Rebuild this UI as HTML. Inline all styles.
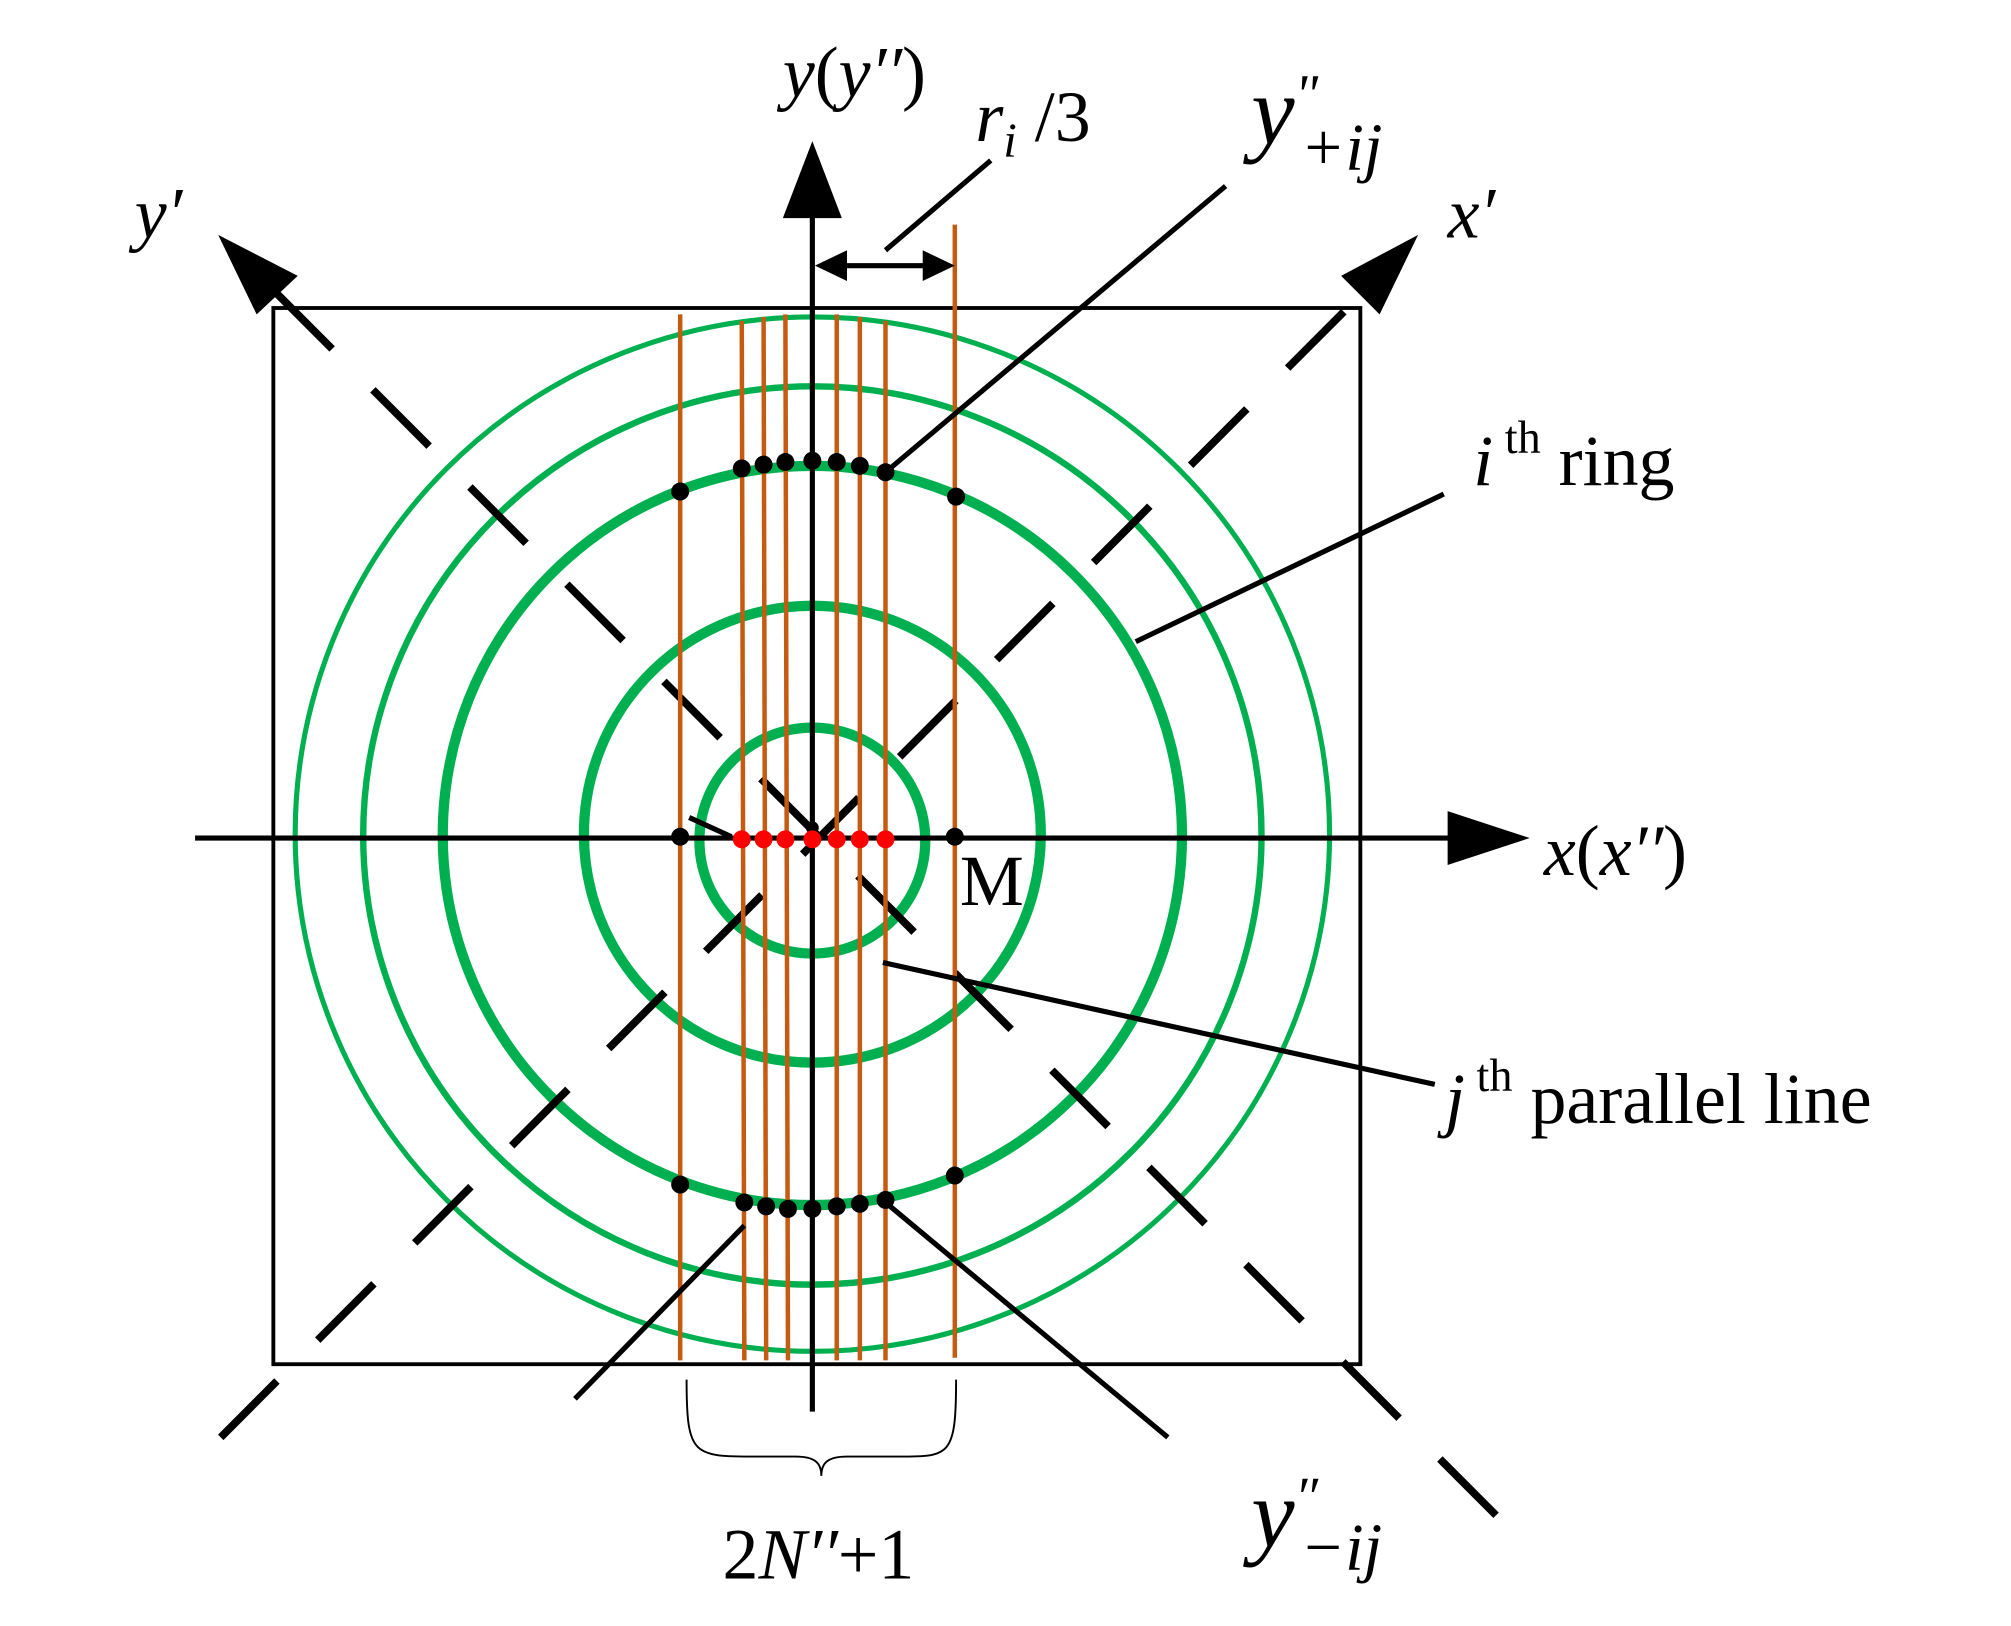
<!DOCTYPE html>
<html><head><meta charset="utf-8"><style>
html,body{margin:0;padding:0;background:#fff}
svg{display:block}
text{font-family:"Liberation Serif",serif;fill:#000}
</style></head><body>
<svg width="2011" height="1626" viewBox="0 0 1567 1267" preserveAspectRatio="none" xmlns="http://www.w3.org/2000/svg">
<rect x="213" y="240" width="847" height="823" fill="none" stroke="#000" stroke-width="3"/>
<g fill="none" stroke="#00b050">
<circle cx="633" cy="655" r="88" stroke-width="8"/>
<circle cx="633" cy="650" r="178" stroke-width="8"/>
<circle cx="633" cy="651" r="288" stroke-width="8"/>
<circle cx="633" cy="651" r="350" stroke-width="5"/>
<circle cx="633" cy="650" r="403" stroke-width="4"/>
</g>
<g stroke="#000" stroke-width="6" stroke-dasharray="62 45">
<line x1="172" y1="1120" x2="1065" y2="225"/>
<line x1="215" y1="228" x2="1170" y2="1185"/>
</g>
<polygon points="1105,183 1045,215 1075,245" fill="#000"/>
<polygon points="170,183 200,245 232,215" fill="#000"/>
<g stroke="#c55a11" stroke-width="3.5">
<line x1="530" y1="245" x2="530" y2="1060"/>
<line x1="578" y1="250" x2="580" y2="1060"/>
<line x1="595" y1="247" x2="597" y2="1060"/>
<line x1="612" y1="245" x2="614" y2="1060"/>
<line x1="652" y1="245" x2="652" y2="1060"/>
<line x1="670" y1="247" x2="670" y2="1060"/>
<line x1="690" y1="250" x2="690" y2="1060"/>
<line x1="744" y1="175" x2="744" y2="1058"/>
</g>
<g stroke="#000" stroke-width="4" fill="none">
<line x1="633" y1="165" x2="633" y2="1100"/>
<line x1="152" y1="653" x2="1135" y2="653"/>
<line x1="645" y1="207" x2="733" y2="207"/>
<line x1="690" y1="195" x2="772" y2="125"/>
<line x1="690" y1="368" x2="955" y2="145"/>
<line x1="885" y1="500" x2="1125" y2="385"/>
<line x1="688" y1="750" x2="1118" y2="845"/>
<line x1="580" y1="955" x2="448" y2="1090"/>
<line x1="690" y1="937" x2="910" y2="1120"/>
<line x1="537" y1="637" x2="570" y2="652"/>
<path d="M535,1075 C535,1135 540,1135 590,1135 L620,1135 C635,1135 640,1140 640,1150 C640,1140 645,1135 660,1135 L700,1135 C740,1135 745,1135 745,1075" stroke-width="1.5"/>
</g>
<polygon points="633,110 610,170 656,170" fill="#000"/>
<polygon points="1192,653 1128,632 1128,674" fill="#000"/>
<polygon points="635,207 660,195 660,219" fill="#000"/>
<polygon points="744,207 719,195 719,219" fill="#000"/>
<g fill="#000">
<circle cx="530" cy="383" r="7"/><circle cx="578" cy="365" r="7"/><circle cx="595" cy="362" r="7"/><circle cx="612" cy="360" r="7"/><circle cx="633" cy="359" r="7"/><circle cx="652" cy="360" r="7"/><circle cx="670" cy="363" r="7"/><circle cx="690" cy="368" r="7"/><circle cx="745" cy="387" r="7"/>
<circle cx="530" cy="923" r="7"/><circle cx="580" cy="937" r="7"/><circle cx="597" cy="940" r="7"/><circle cx="614" cy="942" r="7"/><circle cx="633" cy="942" r="7"/><circle cx="652" cy="940" r="7"/><circle cx="670" cy="938" r="7"/><circle cx="690" cy="935" r="7"/><circle cx="744" cy="916" r="7"/>
<circle cx="530" cy="652" r="7"/><circle cx="744" cy="652" r="7"/><circle cx="633" cy="645" r="5"/>
</g>
<g fill="#ff0000">
<circle cx="578" cy="654" r="7"/><circle cx="595" cy="654" r="7"/><circle cx="612" cy="654" r="7"/><circle cx="633" cy="654" r="7"/><circle cx="652" cy="654" r="7"/><circle cx="670" cy="654" r="7"/><circle cx="690" cy="654" r="7"/>
</g>
<g font-size="56">
<text x="610" y="75"><tspan font-style="italic">y</tspan>(<tspan font-style="italic">y′′</tspan>)</text>
<text x="760" y="110"><tspan font-style="italic">r</tspan><tspan font-style="italic" font-size="38" dy="12">i</tspan><tspan dy="-12"> /3</tspan></text>
<text x="975" y="112" font-style="italic" font-size="76">y<tspan font-size="44" dy="-24">"</tspan><tspan font-size="52" dy="44" dx="-14">+ij</tspan></text>
<text x="1128" y="185" font-style="italic">x′</text>
<text x="105" y="185" font-style="italic">y′</text>
<text x="1148" y="378"><tspan font-style="italic">i</tspan><tspan font-size="36" dy="-25"> th</tspan><tspan dy="25"> ring</tspan></text>
<text x="1203" y="682"><tspan font-style="italic">x</tspan>(<tspan font-style="italic">x′′</tspan>)</text>
<text x="748" y="705">M</text>
<text x="1126" y="875"><tspan font-style="italic">j</tspan><tspan font-size="36" dy="-25"> th</tspan><tspan dy="25"> parallel line</tspan></text>
<text x="563" y="1230">2<tspan font-style="italic">N′′</tspan>+1</text>
<text x="975" y="1205" font-style="italic" font-size="76">y<tspan font-size="44" dy="-24">″</tspan><tspan font-size="52" dy="42" dx="-14">−ij</tspan></text>
</g>
</svg>
</body></html>
